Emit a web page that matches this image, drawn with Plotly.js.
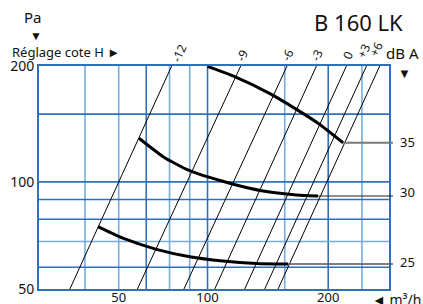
<!DOCTYPE html>
<html>
<head>
<meta charset="utf-8">
<script src="https://cdn.plot.ly/plotly-3.0.1.min.js"></script>
<style>html,body{margin:0;padding:0;background:#fff;}#chart{width:423px;height:304px;}</style>
</head>
<body>
<div id="chart"></div>
<script>
// ---- Data ----
// Damper settings ("Réglage cote H"): straight system lines on log-log axes
const damperLabels = ['-12', '-9', '-6', '-3', '0', '+3', '+6'];
const damperPBottom = 52.7;   // Pa, at lower axis edge
const damperPTop = 200;       // Pa, at upper axis edge
const damperQBottom = [36.2, 56.6, 77.0, 94.4, 115.1, 131.4, 143.5]; // m3/h
const damperQTop = [71.0, 112.1, 152.3, 185.0, 225.6, 257.6, 281.2];  // m3/h

// Fan curves, labelled by sound level dB(A)
const fanLevels = ['35', '30', '25'];
const fan35Q = [90.0, 106.5, 137.3, 162.1, 187.0, 220.6];
const fan35P = [199.5, 188.4, 168.8, 154.3, 142.0, 126.4];
const fan30Q = [57.2, 67.1, 80.0, 104.2, 129.9, 162.1, 187.0];
const fan30P = [129.8, 116.3, 106.9, 99.2, 94.7, 92.5, 91.9];
const fan25Q = [43.6, 51.4, 64.2, 80.0, 99.7, 124.3, 153.3];
const fan25P = [76.5, 71.4, 66.8, 63.9, 62.3, 61.4, 61.2];

// Axes
const xTickVals = [50, 90, 200];
const xTickText = ['50', '100', '200'];
const yTickVals = [52.7, 100, 200];
const yTickText = ['50', '100', '200'];
const xGridDark = [60, 90, 200];
const xGridLight = [40, 50, 70, 80, 150, 250];
const yGridDark = [60, 80, 90, 100, 150];
const yGridLight = [70];

// ---- Styles ----
const darkBlue = '#2f70b8';
const lightBlue = '#78acda';
const fontFam = '"Noto Sans", "Open Sans", sans-serif';
const txt = '#111';

const traces = [];
damperLabels.forEach((lab, i) => {
  traces.push({
    x: [damperQBottom[i], damperQTop[i]],
    y: [damperPBottom, damperPTop],
    mode: 'lines', type: 'scatter',
    line: {color: '#000', width: 1},
    hoverinfo: 'skip', showlegend: false
  });
});
const fans = [[fan35Q, fan35P], [fan30Q, fan30P], [fan25Q, fan25P]];
fans.forEach(f => {
  traces.push({
    x: f[0], y: f[1], mode: 'lines', type: 'scatter',
    line: {color: '#000', width: 3, shape: 'spline', smoothing: 0.6},
    hoverinfo: 'skip', showlegend: false
  });
});

const shapes = [];
function vline(v, c) { shapes.push({type: 'line', xref: 'x', yref: 'paper', x0: v, x1: v, y0: 0, y1: 1, layer: 'below', line: {color: c, width: 1.6}}); }
function hline(v, c) { shapes.push({type: 'line', xref: 'paper', yref: 'y', x0: 0, x1: 1, y0: v, y1: v, layer: 'below', line: {color: c, width: 1.6}}); }
xGridLight.forEach(v => vline(v, lightBlue));
xGridDark.forEach(v => vline(v, darkBlue));
yGridLight.forEach(v => hline(v, lightBlue));
yGridDark.forEach(v => hline(v, darkBlue));

const annotations = [];
function note(o) {
  annotations.push(Object.assign({showarrow: false, xanchor: 'center', yanchor: 'middle'}, o));
}
// damper labels (rotated, above top edge)
const dLabXShift = [7, 1, 0, 0, 1, -3, -4];
const dLabYShift = [2, 0, 0, 0, 0, 5, 6];
damperLabels.forEach((lab, i) => {
  note({
    text: lab, xref: 'x', yref: 'paper', x: Math.log10(damperQTop[i]), y: 1.049,
    xshift: dLabXShift[i], yshift: dLabYShift[i],
    textangle: -65, font: {family: fontFam, size: 12, color: txt}
  });
});
// fan curve leader lines and labels
const leaderColors = ['#7a7a7a', '#222', '#555'];
const leaderWidths = [2, 1, 1.5];
const labelShiftY = [1, 4, 2];
fans.forEach((f, i) => {
  const q = f[0][f[0].length - 1], p = f[1][f[1].length - 1];
  annotations.push({
    text: '', xref: 'x', yref: 'y', x: Math.log10(q), y: Math.log10(p),
    axref: 'x', ayref: 'y', ax: Math.log10(310), ay: Math.log10(p),
    showarrow: true, arrowhead: 0, arrowwidth: leaderWidths[i], arrowcolor: leaderColors[i], standoff: 0
  });
  note({
    text: fanLevels[i], xref: 'paper', yref: 'y', x: 1.027, y: Math.log10(p), yshift: labelShiftY[i],
    xanchor: 'left', font: {family: fontFam, size: 13, color: txt}
  });
});
// other texts
note({text: 'Pa', xref: 'paper', yref: 'paper', x: -0.016, y: 1.22, font: {family: fontFam, size: 15, color: txt}});
note({text: '▼', xref: 'paper', yref: 'paper', x: -0.01, y: 1.137, font: {family: fontFam, size: 12, color: txt}});
note({text: 'Réglage cote H ►', xref: 'paper', yref: 'paper', x: -0.084, y: 1.064, xanchor: 'left', font: {family: fontFam, size: 13, color: txt}});
note({text: 'dB A', xref: 'paper', yref: 'paper', x: 1.09, y: 1.058, xanchor: 'right', font: {family: fontFam, size: 15, color: txt}});
note({text: '▼', xref: 'paper', yref: 'paper', x: 1.045, y: 0.969, font: {family: fontFam, size: 13, color: txt}});
note({text: '◄ m³/h', xref: 'paper', yref: 'paper', x: 0.945, y: -0.045, xanchor: 'left', font: {family: fontFam, size: 14, color: txt}});

const layout = {
  width: 423, height: 304,
  margin: {l: 39.3, r: 33.7, t: 66, b: 15, pad: 0},
  paper_bgcolor: '#fff', plot_bgcolor: '#fff',
  showlegend: false,
  title: {text: 'B 160 LK', xref: 'container', x: 0.952, xanchor: 'right', yref: 'container', y: 0.922, yanchor: 'middle',
          font: {family: fontFam, size: 22, color: txt}},
  xaxis: {type: 'log', range: [1.470, 2.4757], tickmode: 'array', tickvals: xTickVals, ticktext: xTickText,
          showgrid: false, zeroline: false, showline: true, mirror: true, linecolor: darkBlue, linewidth: 2,
          ticks: '', ticklabelstandoff: -5, tickfont: {family: fontFam, size: 13, color: txt}},
  yaxis: {type: 'log', range: [Math.log10(52.7), Math.log10(200)], tickmode: 'array', tickvals: yTickVals, ticktext: yTickText,
          showgrid: false, zeroline: false, showline: true, mirror: true, linecolor: darkBlue, linewidth: 2,
          ticks: '', tickfont: {family: fontFam, size: 14, color: txt}},
  shapes: shapes,
  annotations: annotations
};

Plotly.newPlot('chart', traces, layout, {displayModeBar: false, staticPlot: true});
</script>
</body>
</html>
